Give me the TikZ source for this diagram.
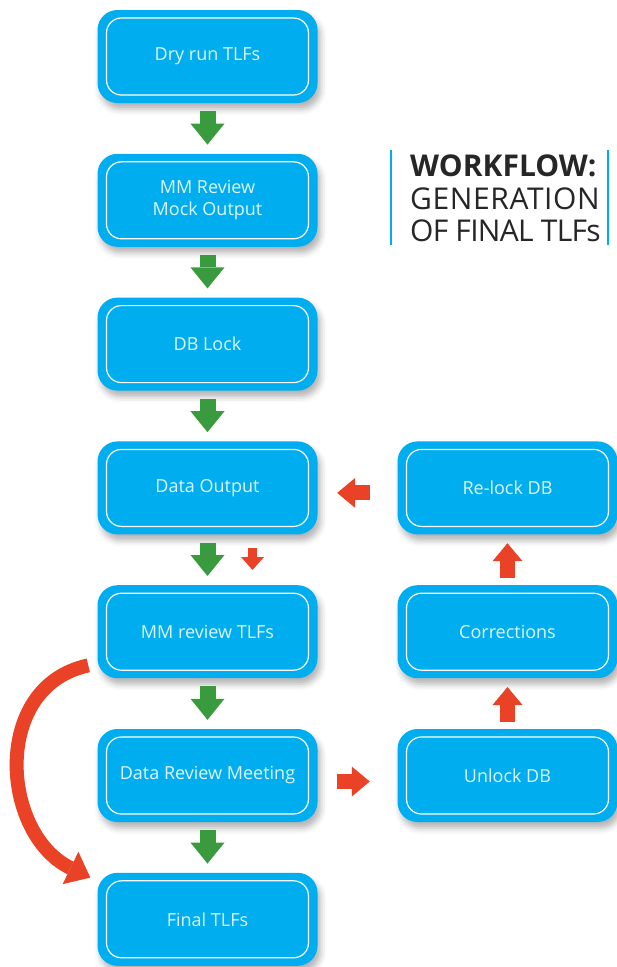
\documentclass[tikz,border=0pt]{standalone}
\usepackage{fontspec}
\setmainfont{Open Sans}
\usepackage{xcolor}
\usetikzlibrary{arrows.meta,positioning,shadows.blur}

\definecolor{boxblue}{RGB}{0,173,238}
\definecolor{boxtext}{RGB}{222,244,252}
\definecolor{arrgreen}{RGB}{58,154,62}
\definecolor{arrred}{RGB}{234,66,38}
\definecolor{titlegray}{RGB}{38,38,38}

\begin{document}
\begin{tikzpicture}[node distance=143.8pt,
    greenarrow/.style={draw=arrgreen, line width=16pt, -{Triangle[width=34pt,length=21pt,line width=0pt]}, shorten <=8pt, shorten >=9pt},
    redarrow/.style={draw=arrred, line width=15pt, -{Triangle[width=30pt,length=18pt,line width=0pt]}},
    curvearrow/.style={draw=arrred, line width=14pt, -{Triangle[width=36pt,length=22pt,line width=0pt]}}]
      \tikzstyle{flowbox}=[rectangle, rounded corners=20pt, fill=boxblue, text=boxtext, minimum width=220pt, minimum height=93pt, inner sep=0pt, align=center,
        font=\fontsize{18}{22}\selectfont,
        blur shadow={shadow xshift=3pt, shadow yshift=-6pt, shadow blur radius=6pt, shadow opacity=30},
        path picture={\draw[white, line width=1.2pt, rounded corners=15pt] ([shift={(9pt,-8pt)}]path picture bounding box.north west) rectangle ([shift={(-9pt,8pt)}]path picture bounding box.south east);}]
      \useasboundingbox (0,0) rectangle (617pt,-967pt);

      % left column
      \node[flowbox] (A) at (207.5pt,-56.5pt) {Dry run TLFs};
      \node[flowbox] (B) [below of=A] {MM Review\\Mock Output};
      \node[flowbox] (C) [below of=B] {DB Lock};
      \node[flowbox] (D) [below of=C] {Data Output};
      \node[flowbox] (E) [below of=D] {MM review TLFs};
      \node[flowbox] (F) [below of=E] {Data Review Meeting};
      \node[flowbox] (G) [below of=F] {Final TLFs};
      % right column
      \node[flowbox, node distance=300pt] (H) [right of=D] {Re-lock DB};
      \node[flowbox] (I) [below of=H] {Corrections};
      \node[flowbox] (J) [below of=I] {Unlock DB};

      % title
      \node[anchor=north west, inner sep=0pt, align=left, text=titlegray, font=\fontsize{30}{32.5}\selectfont] (T) at (410pt,-155pt)
        {\textbf{WORKFLOW:}\\{\addfontfeatures{LetterSpace=2}GENERATION}\\{\addfontfeatures{LetterSpace=-2.3}OF FINAL TLFs}};
      \draw[boxblue, line width=2.5pt] (391pt,-150pt) -- (391pt,-245pt);
      \draw[boxblue, line width=2.5pt] (608pt,-150pt) -- (608pt,-245pt);

      \path (A) edge [greenarrow] (B)
            (B) edge [greenarrow] (C)
            (C) edge [greenarrow] (D)
            (D) edge [greenarrow] (E)
            (E) edge [greenarrow] (F)
            (F) edge [greenarrow] (G);
      \path ([xshift=45pt]D.south) edge [redarrow, line width=9pt, -{Triangle[width=23pt,length=13pt,line width=0pt]}, shorten <=13.6pt, shorten >=15pt] ([xshift=45pt]E.north)
            ([yshift=-5pt]H.west) edge [redarrow, shorten <=27.5pt, shorten >=19.5pt] ([yshift=-5pt]D.east)
            ([yshift=-6pt]F.east) edge [redarrow, shorten <=19.5pt, shorten >=27.5pt] ([yshift=-6pt]J.west)
            (J) edge [redarrow, shorten <=7pt, shorten >=8.6pt] (I)
            (I) edge [redarrow, shorten <=7pt, shorten >=8.6pt] (H);
      \path ([shift={(-9pt,13pt)}]E.south west) edge [curvearrow, out=192, in=154, looseness=1.2] ([shift={(-7pt,-5pt)}]G.north west);
\end{tikzpicture}
\end{document}
